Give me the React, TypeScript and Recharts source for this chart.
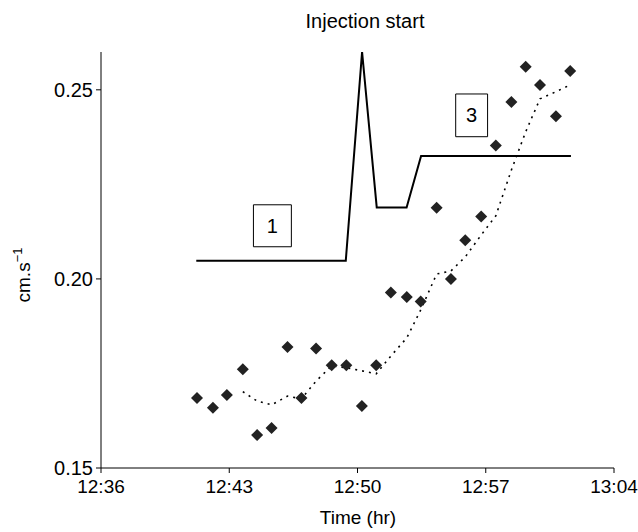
import React from 'react';
import { ComposedChart, Line, Scatter, XAxis, YAxis, ReferenceArea, Label } from 'recharts';

if (typeof document !== 'undefined') {
  document.body.style.margin = '0';
}

// time in minutes after 12:00
const TIME_TICKS = [36, 43, 50, 57, 64];
const VALUE_TICKS = [0.15, 0.2, 0.25];

// measured points (diamonds)
const pointTimes = [
  41.24, 42.11, 42.87, 43.74, 44.52, 45.31, 46.18, 46.94, 47.74, 48.59, 49.39, 50.24, 51.02,
  51.82, 52.69, 53.45, 54.32, 55.10, 55.88, 56.75, 57.55, 58.40, 59.18, 59.96, 60.83, 61.61,
];
const pointValues = [
  0.1685, 0.1659, 0.1693, 0.1761, 0.1587, 0.1606, 0.182, 0.1685, 0.1816, 0.1772, 0.1772, 0.1664, 0.1772,
  0.1964, 0.1952, 0.194, 0.2188, 0.2, 0.2102, 0.2165, 0.2353, 0.2468, 0.2561, 0.2513, 0.243, 0.255,
];

// dotted trend (starts at the 4th point)
const trendValues = [
  0.1702, 0.1677, 0.1667, 0.169, 0.1683, 0.173, 0.177, 0.1765, 0.1757, 0.1749, 0.1796, 0.1844,
  0.1918, 0.2013, 0.2021, 0.2058, 0.2116, 0.2167, 0.2288, 0.2389, 0.2476, 0.2495, 0.2513,
];

// solid injection line
const injTimes = [41.2, 49.36, 50.25, 51.05, 52.68, 53.47, 61.65];
const injValues = [0.2048, 0.2048, 0.26, 0.2189, 0.2189, 0.2325, 0.2325];

const points = pointTimes.map((t, i) => ({ t, v: pointValues[i] }));
const trend = trendValues.map((v, i) => ({ t: pointTimes[i + 3], v }));
const injection = injTimes.map((t, i) => ({ t, v: injValues[i] }));

const FONT = '"Liberation Sans", Arial, sans-serif';

const fmtTime = (m: number) => {
  const h = 12 + Math.floor(m / 60);
  const mm = m % 60;
  return `${h}:${mm < 10 ? '0' + mm : mm}`;
};

const Diamond = (props: any) => {
  const { cx, cy } = props;
  const r = 6;
  return (
    <polygon
      points={`${cx},${cy - r} ${cx + r},${cy} ${cx},${cy + r} ${cx - r},${cy}`}
      fill="#222"
    />
  );
};

const YLabel = (props: any) => {
  const x = 30;
  const y = 275;
  return (
    <text
      x={x}
      y={y}
      transform={`rotate(-90, ${x}, ${y})`}
      textAnchor="middle"
      fontSize={19}
      fontFamily={FONT}
      fill="#000"
    >
      cm.s<tspan dy={-8} fontSize={13}>−1</tspan>
    </text>
  );
};

export default function App() {
  return (
    <div style={{ position: 'relative', width: 638, height: 532, background: '#fff', fontFamily: FONT }}>
      <div
        style={{
          position: 'absolute',
          left: 265,
          width: 200,
          top: 10,
          textAlign: 'center',
          fontSize: 20,
          color: '#000',
        }}
      >
        Injection start
      </div>
      <div
        style={{
          position: 'absolute',
          left: 258,
          width: 200,
          top: 507,
          textAlign: 'center',
          fontSize: 19,
          color: '#000',
        }}
      >
        Time (hr)
      </div>
      <ComposedChart
        width={638}
        height={532}
        margin={{ top: 52, right: 24, bottom: 24, left: 0 }}
        style={{ position: 'absolute', left: 0, top: 0 }}
      >
        <XAxis
          dataKey="t"
          type="number"
          domain={[36, 64]}
          ticks={TIME_TICKS}
          tickFormatter={fmtTime}
          allowDataOverflow
          height={40}
          stroke="#000"
          tickSize={5}
          tickMargin={7}
          tick={{ fill: '#000', fontSize: 19, fontFamily: FONT }}
        />
        <YAxis
          dataKey="v"
          type="number"
          domain={[0.15, 0.26]}
          ticks={VALUE_TICKS}
          tickFormatter={(v: number) => v.toFixed(2)}
          allowDataOverflow
          width={101}
          stroke="#000"
          tickSize={5}
          tickMargin={3}
          tick={{ fill: '#000', fontSize: 20, fontFamily: FONT }}
        >
          <Label content={<YLabel />} />
        </YAxis>
        <ReferenceArea x1={44.32} x2={46.39} y1={0.2085} y2={0.2196} fill="#fff" fillOpacity={1} stroke="#000" strokeWidth={1}>
          <Label value="1" position="center" fill="#000" fontSize={20} fontFamily={FONT} />
        </ReferenceArea>
        <ReferenceArea x1={55.36} x2={57.1} y1={0.2376} y2={0.2489} fill="#fff" fillOpacity={1} stroke="#000" strokeWidth={1}>
          <Label value="3" position="center" fill="#000" fontSize={20} fontFamily={FONT} />
        </ReferenceArea>
        <Line
          data={injection}
          dataKey="v"
          type="linear"
          stroke="#000"
          strokeWidth={2}
          dot={false}
          isAnimationActive={false}
        />
        <Line
          data={trend}
          dataKey="v"
          type="linear"
          stroke="#000"
          strokeWidth={1.6}
          strokeDasharray="2 5"
          dot={false}
          isAnimationActive={false}
        />
        <Scatter data={points} dataKey="v" shape={<Diamond />} isAnimationActive={false} />
      </ComposedChart>
    </div>
  );
}
